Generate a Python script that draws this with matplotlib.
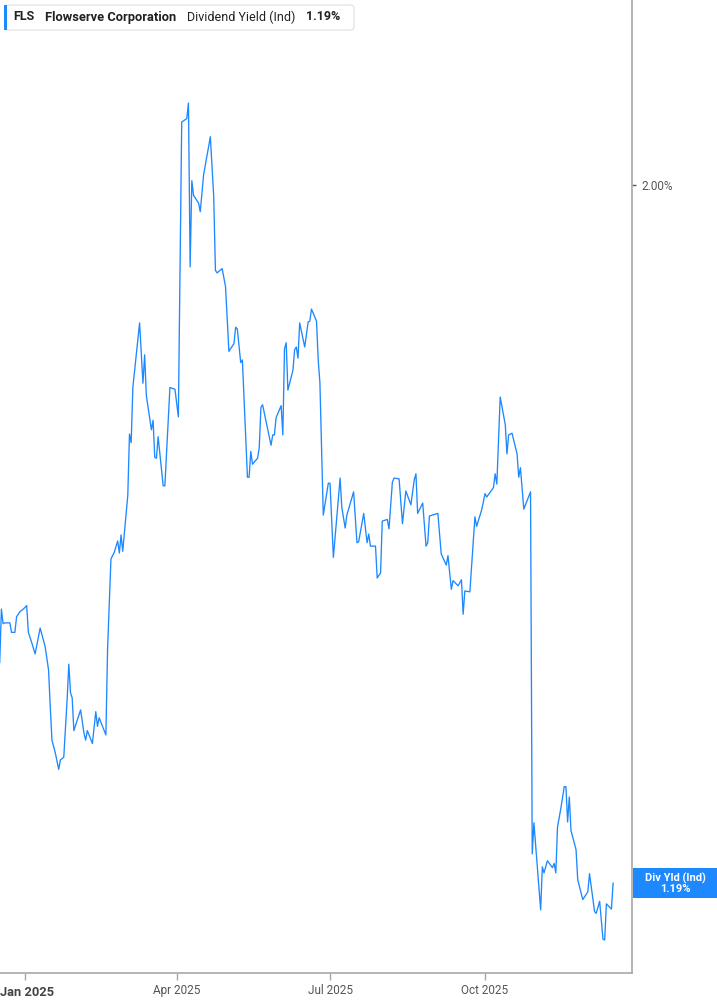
import matplotlib
matplotlib.use("Agg")
import matplotlib.pyplot as plt
import matplotlib.dates as mdates
from matplotlib.patches import Rectangle, FancyBboxPatch
import pandas as pd

# FLS dividend yield (indicated)
dates = [
    "2024-12-17", "2024-12-18", "2024-12-19", "2024-12-20", "2024-12-23", "2024-12-24", "2024-12-26", "2024-12-27", "2024-12-29", "2024-12-31",
    "2025-01-02", "2025-01-03", "2025-01-05", "2025-01-07", "2025-01-10", "2025-01-13", "2025-01-15", "2025-01-16", "2025-01-17", "2025-01-19",
    "2025-01-21", "2025-01-22", "2025-01-24", "2025-01-26", "2025-01-27", "2025-01-28", "2025-01-29", "2025-01-30", "2025-02-03", "2025-02-05",
    "2025-02-06", "2025-02-07", "2025-02-10", "2025-02-12", "2025-02-13", "2025-02-14", "2025-02-18", "2025-02-19", "2025-02-21", "2025-02-23",
    "2025-02-25", "2025-02-26", "2025-02-27", "2025-02-28", "2025-03-03", "2025-03-04", "2025-03-05", "2025-03-06", "2025-03-10", "2025-03-12",
    "2025-03-13", "2025-03-14", "2025-03-17", "2025-03-18", "2025-03-19", "2025-03-20", "2025-03-21", "2025-03-24", "2025-03-25", "2025-03-28",
    "2025-03-31", "2025-04-02", "2025-04-04", "2025-04-07", "2025-04-08", "2025-04-09", "2025-04-10", "2025-04-11", "2025-04-14", "2025-04-15",
    "2025-04-17", "2025-04-21", "2025-04-23", "2025-04-24", "2025-04-25", "2025-04-28", "2025-04-30", "2025-05-02", "2025-05-05", "2025-05-06",
    "2025-05-07", "2025-05-09", "2025-05-10", "2025-05-13", "2025-05-14", "2025-05-15", "2025-05-16", "2025-05-19", "2025-05-20", "2025-05-21",
    "2025-05-22", "2025-05-27", "2025-05-28", "2025-05-29", "2025-05-30", "2025-06-02", "2025-06-03", "2025-06-04", "2025-06-05", "2025-06-06",
    "2025-06-09", "2025-06-10", "2025-06-11", "2025-06-12", "2025-06-13", "2025-06-16", "2025-06-18", "2025-06-19", "2025-06-20", "2025-06-23",
    "2025-06-24", "2025-06-25", "2025-06-27", "2025-06-30", "2025-07-01", "2025-07-03", "2025-07-07", "2025-07-08", "2025-07-10", "2025-07-11",
    "2025-07-15", "2025-07-17", "2025-07-18", "2025-07-21", "2025-07-23", "2025-07-24", "2025-07-25", "2025-07-28", "2025-07-29", "2025-07-31",
    "2025-08-01", "2025-08-04", "2025-08-05", "2025-08-07", "2025-08-08", "2025-08-11", "2025-08-13", "2025-08-15", "2025-08-18", "2025-08-20",
    "2025-08-21", "2025-08-22", "2025-08-25", "2025-08-27", "2025-08-28", "2025-08-29", "2025-09-03", "2025-09-05", "2025-09-08", "2025-09-09",
    "2025-09-11", "2025-09-12", "2025-09-15", "2025-09-17", "2025-09-18", "2025-09-19", "2025-09-22", "2025-09-25", "2025-09-26", "2025-09-29",
    "2025-10-01", "2025-10-02", "2025-10-06", "2025-10-07", "2025-10-08", "2025-10-10", "2025-10-13", "2025-10-14", "2025-10-15", "2025-10-17",
    "2025-10-20", "2025-10-21", "2025-10-22", "2025-10-24", "2025-10-28", "2025-10-29", "2025-10-30", "2025-11-03", "2025-11-04", "2025-11-05",
    "2025-11-07", "2025-11-10", "2025-11-11", "2025-11-12", "2025-11-13", "2025-11-15", "2025-11-17", "2025-11-18", "2025-11-19", "2025-11-20",
    "2025-11-21", "2025-11-24", "2025-11-25", "2025-11-28", "2025-12-01", "2025-12-02", "2025-12-05", "2025-12-06", "2025-12-08", "2025-12-10",
    "2025-12-11", "2025-12-12", "2025-12-15", "2025-12-16",
]
yield_pct = [
    1.446, 1.508, 1.491, 1.492, 1.492, 1.481, 1.481, 1.499, 1.505, 1.508,
    1.512, 1.481, 1.469, 1.456, 1.486, 1.464, 1.437, 1.394, 1.356, 1.341,
    1.322, 1.333, 1.336, 1.403, 1.444, 1.411, 1.405, 1.367, 1.391, 1.364,
    1.356, 1.367, 1.352, 1.389, 1.372, 1.382, 1.362, 1.461, 1.566, 1.574,
    1.587, 1.573, 1.594, 1.575, 1.640, 1.711, 1.701, 1.765, 1.840, 1.770,
    1.803, 1.756, 1.716, 1.727, 1.684, 1.683, 1.708, 1.651, 1.651, 1.765,
    1.763, 1.731, 2.073, 2.077, 2.095, 1.905, 2.005, 1.988, 1.979, 1.969,
    2.012, 2.056, 1.986, 1.901, 1.898, 1.903, 1.882, 1.807, 1.816, 1.835,
    1.833, 1.794, 1.797, 1.661, 1.661, 1.691, 1.676, 1.683, 1.695, 1.742,
    1.745, 1.698, 1.710, 1.710, 1.730, 1.744, 1.710, 1.810, 1.817, 1.762,
    1.785, 1.809, 1.812, 1.799, 1.840, 1.812, 1.841, 1.842, 1.856, 1.842,
    1.797, 1.771, 1.617, 1.654, 1.654, 1.568, 1.660, 1.626, 1.602, 1.617,
    1.644, 1.585, 1.586, 1.619, 1.585, 1.595, 1.581, 1.581, 1.544, 1.550,
    1.610, 1.612, 1.601, 1.655, 1.660, 1.659, 1.607, 1.645, 1.629, 1.658,
    1.665, 1.619, 1.631, 1.581, 1.585, 1.616, 1.619, 1.572, 1.559, 1.570,
    1.531, 1.541, 1.535, 1.542, 1.502, 1.529, 1.528, 1.615, 1.604, 1.623,
    1.642, 1.638, 1.649, 1.665, 1.653, 1.754, 1.722, 1.688, 1.710, 1.712,
    1.688, 1.661, 1.672, 1.624, 1.644, 1.224, 1.260, 1.159, 1.209, 1.202,
    1.216, 1.208, 1.213, 1.202, 1.255, 1.277, 1.302, 1.302, 1.261, 1.290,
    1.251, 1.229, 1.194, 1.171, 1.180, 1.201, 1.157, 1.155, 1.169, 1.125,
    1.124, 1.166, 1.160, 1.190,
]
tick_dates = ["2025-01-01", "2025-04-01", "2025-07-01", "2025-10-01"]
tick_labels = ["Jan 2025", "Apr 2025", "Jul 2025", "Oct 2025"]
y_ticks = [2.00]

ticker = "FLS"
company = "Flowserve Corporation"
metric = "Dividend Yield (Ind)"
last_label = "Div Yld (Ind)"

LINE = "#1e88ff"
W, H = 717, 1005

plt.rcParams["font.family"] = ["Roboto", "DejaVu Sans"]

x = pd.to_datetime(dates)
fig = plt.figure(figsize=(W / 100, H / 100), dpi=100)
ax = fig.add_axes([0, 1 - 973 / H, 632 / W, 973 / H])

ax.plot(x, yield_pct, color=LINE, linewidth=0.95)

ax.set_xlim(mdates.date2num(pd.Timestamp("2024-12-17 04:00")),
            mdates.date2num(pd.Timestamp("2025-12-27 05:00")))
ax.set_ylim(1.0858, 2.2146)

for side in ["left", "top"]:
    ax.spines[side].set_visible(False)
for side in ["right", "bottom"]:
    ax.spines[side].set_color("#a8a8a8")
    ax.spines[side].set_linewidth(1.2)

ax.yaxis.tick_right()
ax.set_yticks(y_ticks)
ax.set_yticklabels(["%.2f%%" % v for v in y_ticks])
ax.tick_params(axis="y", length=3, width=1, color="#555555", labelsize=8.5,
               labelcolor="#555555", pad=4)

# the first (year) label sits flush with the left edge, bold
ax.set_xticks(pd.to_datetime(tick_dates))
ax.set_xticklabels([""] + tick_labels[1:])
ax.tick_params(axis="x", length=5, width=1, color="#a8a8a8", labelsize=8.5,
               labelcolor="#555555", pad=3)
fig.text(0.5 / W, 1 - 992 / H, tick_labels[0], fontsize=9.3, fontweight="bold",
         color="#444444", ha="left", va="center")

# header box at top left
box = FancyBboxPatch((5 / W, 1 - 30 / H), 349 / W, 25 / H,
                     boxstyle="round,pad=0,rounding_size=0.004",
                     transform=fig.transFigure, facecolor="white",
                     edgecolor="#e6e6e6", linewidth=1)
fig.patches.append(box)
fig.patches.append(Rectangle((4 / W, 1 - 30 / H), 3 / W, 25 / H,
                             transform=fig.transFigure, facecolor=LINE,
                             edgecolor="none"))
ty = 1 - 17 / H
fig.text(13 / W, ty, ticker, fontsize=9, fontweight="bold", color="#222222", va="center")
fig.text(45 / W, ty, company, fontsize=9.3, fontweight="bold", color="#222222", va="center")
fig.text(187 / W, ty, metric, fontsize=9, color="#222222", va="center")
fig.text(306 / W, ty, "%.2f%%" % yield_pct[-1], fontsize=9, fontweight="bold",
         color="#222222", va="center")

# last value tag on the right axis
trans = ax.get_yaxis_transform()
tag_h = 30 / 862
ax.add_patch(Rectangle((1.0015, yield_pct[-1] - tag_h / 2), 84 / 632, tag_h,
                       transform=trans, facecolor=LINE, edgecolor="none",
                       clip_on=False))
ax.text(1.0015 + 42 / 632, yield_pct[-1],
        "%s\n%.2f%%" % (last_label, yield_pct[-1]), transform=trans,
        ha="center", va="center", fontsize=8, fontweight="bold",
        color="white", linespacing=0.95, clip_on=False)

fig.savefig("out.png", dpi=100, facecolor="white")
